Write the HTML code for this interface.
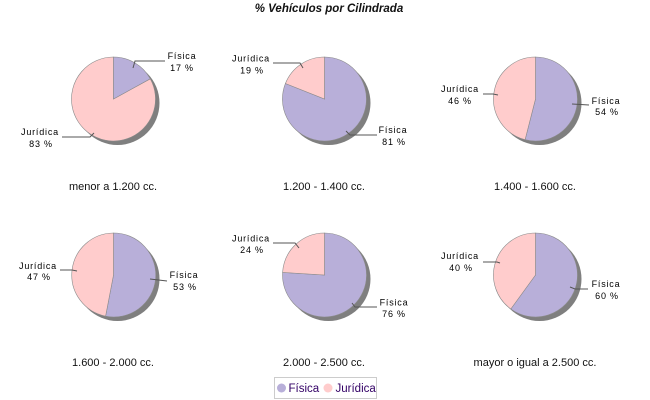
<!DOCTYPE html>
<html><head><meta charset="utf-8"><style>
html,body{margin:0;padding:0;background:#fff;}
svg{display:block;}
.l{font-family:"Liberation Sans",Arial,sans-serif;font-size:9px;fill:#000;letter-spacing:0.8px;text-anchor:middle;}
.c{font-family:"Liberation Sans",Arial,sans-serif;font-size:11px;fill:#111;text-anchor:middle;}
.ln{stroke:#555;stroke-width:1;fill:none;}
.f{fill:#B8AFD9;stroke:#8a8a8a;stroke-width:0.6;}
.j{fill:#FFCCCC;stroke:#8a8a8a;stroke-width:0.6;}
.sh{fill:#7f7f7f;}
</style></head><body>
<svg width="650" height="400" viewBox="0 0 650 400" xmlns="http://www.w3.org/2000/svg">
<rect width="650" height="400" fill="#fff"/>
<text x="329" y="12" font-family="Liberation Sans,Arial,sans-serif" font-size="11.5" font-weight="bold" font-style="italic" text-anchor="middle" fill="#111">% Vehículos por Cilindrada</text>

<!-- Pie 1 -->
<circle class="sh" cx="117.5" cy="103" r="42"/>
<path class="j" d="M113.5,99 L150.3,78.8 A42,42 0 1 1 113.5,57 Z"/>
<path class="f" d="M113.5,99 L113.5,57 A42,42 0 0 1 150.3,78.8 Z"/>
<polyline class="ln" points="133,68 135,61 165,61"/>
<polyline class="ln" points="94,133 90,137 62,137"/>
<text class="l" x="182" y="59">Física</text><text class="l" x="182" y="71">17 %</text>
<text class="l" x="40" y="135">Jurídica</text><text class="l" x="41" y="147">83 %</text>
<text class="c" x="113" y="190">menor a 1.200 cc.</text>

<!-- Pie 2 -->
<circle class="sh" cx="328.5" cy="103" r="42"/>
<path class="f" d="M324.5,99 L324.5,57 A42,42 0 1 1 285.4,83.5 Z"/>
<path class="j" d="M324.5,99 L285.4,83.5 A42,42 0 0 1 324.5,57 Z"/>
<polyline class="ln" points="303,68 300,63 273,63"/>
<polyline class="ln" points="346,131 350,135 377,135"/>
<text class="l" x="251" y="61.5">Jurídica</text><text class="l" x="252" y="73.5">19 %</text>
<text class="l" x="393" y="133">Física</text><text class="l" x="394" y="145">81 %</text>
<text class="c" x="324" y="190">1.200 - 1.400 cc.</text>

<!-- Pie 3 -->
<circle class="sh" cx="539.5" cy="103" r="42"/>
<path class="f" d="M535.5,99 L535.5,57 A42,42 0 1 1 525.1,139.7 Z"/>
<path class="j" d="M535.5,99 L525.1,139.7 A42,42 0 0 1 535.5,57 Z"/>
<polyline class="ln" points="498,95 493,94 483,94"/>
<polyline class="ln" points="572,104 589,105"/>
<text class="l" x="460" y="92">Jurídica</text><text class="l" x="460" y="104">46 %</text>
<text class="l" x="606" y="104">Física</text><text class="l" x="607" y="115">54 %</text>
<text class="c" x="535" y="190">1.400 - 1.600 cc.</text>

<!-- Pie 4 -->
<circle class="sh" cx="117.5" cy="279" r="42"/>
<path class="f" d="M113.5,275 L113.5,233 A42,42 0 1 1 105.6,316.2 Z"/>
<path class="j" d="M113.5,275 L105.6,316.2 A42,42 0 0 1 113.5,233 Z"/>
<polyline class="ln" points="77,271 72,270 60,270"/>
<polyline class="ln" points="150,279 167,281"/>
<text class="l" x="38" y="269">Jurídica</text><text class="l" x="39" y="280">47 %</text>
<text class="l" x="184" y="278">Física</text><text class="l" x="185" y="290">53 %</text>
<text class="c" x="113" y="366">1.600 - 2.000 cc.</text>

<!-- Pie 5 -->
<circle class="sh" cx="328.5" cy="279" r="42"/>
<path class="f" d="M324.5,275 L324.5,233 A42,42 0 1 1 282.6,272.4 Z"/>
<path class="j" d="M324.5,275 L282.6,272.4 A42,42 0 0 1 324.5,233 Z"/>
<polyline class="ln" points="299,248 295,243 273,243"/>
<polyline class="ln" points="352,303 355,307 377,307"/>
<text class="l" x="251" y="241.5">Jurídica</text><text class="l" x="252" y="253">24 %</text>
<text class="l" x="394" y="305.5">Física</text><text class="l" x="394" y="317">76 %</text>
<text class="c" x="324" y="366">2.000 - 2.500 cc.</text>

<!-- Pie 6 -->
<circle class="sh" cx="539.5" cy="279" r="42"/>
<path class="f" d="M535.5,275 L535.5,233 A42,42 0 1 1 510.8,309 Z"/>
<path class="j" d="M535.5,275 L510.8,309 A42,42 0 0 1 535.5,233 Z"/>
<polyline class="ln" points="500,263 497,262 483,262"/>
<polyline class="ln" points="570,287 575,289 588,289"/>
<text class="l" x="460" y="259">Jurídica</text><text class="l" x="461" y="271">40 %</text>
<text class="l" x="606" y="287">Física</text><text class="l" x="607" y="299">60 %</text>
<text class="c" x="535" y="366">mayor o igual a 2.500 cc.</text>

<!-- Legend -->
<rect x="274.5" y="377.5" width="102" height="21" fill="#fff" stroke="#cccccc" stroke-width="1"/>
<circle cx="281.5" cy="388" r="4.5" fill="#B8AFD9"/>
<text x="288.5" y="392" font-family="Liberation Sans,Arial,sans-serif" font-size="11.5" fill="#330066">Física</text>
<circle cx="328" cy="388" r="4.5" fill="#FFCCCC"/>
<text x="335.5" y="392" font-family="Liberation Sans,Arial,sans-serif" font-size="11.5" fill="#330066">Jurídica</text>
</svg>
</body></html>
